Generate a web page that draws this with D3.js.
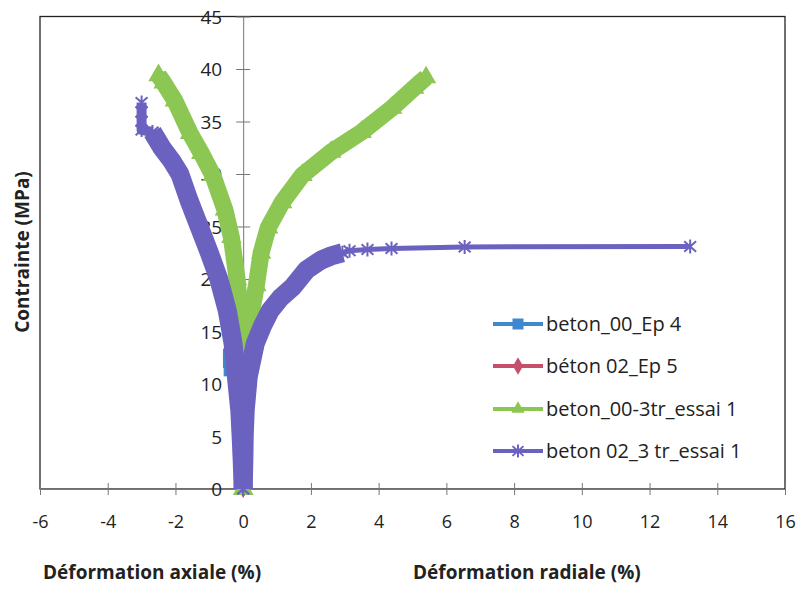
<!DOCTYPE html>
<html>
<head>
<meta charset="utf-8">
<script src="https://cdn.jsdelivr.net/npm/d3@7"></script>
<style>
  html, body { margin: 0; padding: 0; background: #fff; }
  svg { display: block; }
</style>
</head>
<body>
<div id="chart"></div>
<script>
// ---------------- DATA ----------------
const seriesNames = ["beton_00_Ep 4", "béton 02_Ep 5", "beton_00-3tr_essai 1", "beton 02_3 tr_essai 1"];

const xTicks = [-6, -4, -2, 0, 2, 4, 6, 8, 10, 12, 14, 16];
const yTicks = [0, 5, 10, 15, 20, 25, 30, 35, 40, 45];

// beton_00_Ep 4 (mostly hidden)
const blueAxialX  = [0, -0.03, -0.07, -0.13, -0.40, -0.42, -0.42];
const blueAxialY  = [0, 3, 6, 8.5, 11.3, 12.1, 12.8];
const blueRadialX = [0, 0.03, 0.08, 0.15, 0.25, 0.30];
const blueRadialY = [0, 3, 6, 9, 11.5, 13];

// béton 02_Ep 5 (hidden under the other curves)
const pinkAxialX  = [0, -0.02, -0.05, -0.08];
const pinkAxialY  = [0, 3, 6, 8];
const pinkRadialX = [0, 0.02, 0.04, 0.06];
const pinkRadialY = [0, 3, 6, 8];

// beton_00-3tr_essai 1
const greenAxialX  = [0, -0.01, -0.02, -0.04, -0.10, -0.18, -0.35, -0.54, -0.90, -1.24, -1.57, -2.02, -2.35, -2.50];
const greenAxialY  = [0, 4, 8.8, 12, 17, 20, 24, 26.6, 29.9, 32, 33.9, 37, 38.7, 39.4];
const greenRadialX = [0, 0.01, 0.03, 0.10, 0.20, 0.39, 0.53, 0.74, 1.15, 1.75, 2.6, 3.5, 4.4, 5.05, 5.40];
const greenRadialY = [0, 4, 8.8, 13, 16, 19.4, 22.5, 24.9, 27.3, 29.9, 32.1, 34, 36.3, 38.2, 39.2];

// beton 02_3 tr_essai 1
const purpleAxialX  = [0, -0.03, -0.06, -0.10, -0.20, -0.30, -0.47, -0.72, -1.00, -1.30, -1.60, -1.87, -2.12, -2.40, -2.68, -3.00, -3.00, -3.00, -3.00];
const purpleAxialY  = [0, 2.8, 5, 7.5, 10.7, 13.9, 17, 20, 22.5, 25, 27.5, 30, 31.3, 32.5, 34.0, 34.2, 35.0, 35.9, 36.8];
const purpleRadialX = [0, 0.02, 0.03, 0.06, 0.15, 0.36, 0.58, 0.80, 1.10, 1.45, 1.88, 2.30, 2.60, 2.93, 3.14, 3.67, 4.38, 6.54, 13.2];
const purpleRadialY = [0, 2.8, 5, 7.5, 10.7, 13.9, 15.6, 17.0, 18.2, 19.2, 20.9, 21.8, 22.2, 22.5, 22.7, 22.8, 22.9, 23.05, 23.1];

// ---------------- STYLE ----------------
const colors = ["#3f87cf", "#c5506b", "#8cc653", "#6b62c0"];
const markerKind = ["square", "diamond", "triangle", "asterisk"];
const W = 797, H = 593;
const FONT = "'Open Sans', Lato, 'DejaVu Sans', sans-serif";

const zip = (xs, ys) => xs.map((v, i) => [v, ys[i]]);
// band: number of leading points where markers overlap into a solid band;
// tail: stroke width used for the remaining points of each branch
const series = [
  { branches: [zip(blueAxialX, blueAxialY), zip(blueRadialX, blueRadialY)], band: [0, 0], tail: [4, 4], ms: 12 },
  { branches: [zip(pinkAxialX, pinkAxialY), zip(pinkRadialX, pinkRadialY)], band: [0, 0], tail: [4, 4], ms: 10 },
  { branches: [zip(greenAxialX, greenAxialY), zip(greenRadialX, greenRadialY)], band: [greenAxialX.length, greenRadialX.length], bw: 17, tail: [4, 4], ms: 20 },
  { branches: [zip(purpleAxialX, purpleAxialY), zip(purpleRadialX, purpleRadialY)], band: [15, 14], bw: 19, tail: [10, 5], ms: 14 }
];

const svg = d3.select("#chart").append("svg").attr("width", W).attr("height", H)
  .style("font-family", FONT);
svg.append("rect").attr("width", W).attr("height", H).attr("fill", "#fff");

const x = d3.scaleLinear().domain([xTicks[0], xTicks[xTicks.length - 1]]).range([40, 785]);
const y = d3.scaleLinear().domain([yTicks[0], yTicks[yTicks.length - 1]]).range([489, 16.5]);

// plot frame
svg.append("rect")
  .attr("x", x(-6)).attr("y", y(45))
  .attr("width", x(16) - x(-6)).attr("height", y(0) - y(45))
  .attr("fill", "none").attr("stroke", "#222").attr("stroke-width", 1.3);

// x axis (through y = 0)
const xAxis = svg.append("g").attr("transform", `translate(0,${y(0)})`)
  .call(d3.axisBottom(x).tickValues(xTicks).tickFormat(d3.format("d")).tickSizeOuter(0));
xAxis.select(".domain").attr("stroke", "#777");
xAxis.selectAll(".tick line").attr("y1", -6).attr("y2", 6).attr("stroke", "#777");
xAxis.selectAll(".tick text").attr("y", 33).attr("dy", "0.35em")
  .style("font-family", FONT).style("font-size", "18px").attr("fill", "#222")
  .text(d => String(d).replace("\u2212", "-"));

// y axis (through x = 0)
const yAxis = svg.append("g").attr("transform", `translate(${x(0)},0)`)
  .call(d3.axisLeft(y).tickValues(yTicks).tickFormat(d3.format("d")).tickSizeOuter(0));
yAxis.select(".domain").attr("stroke", "#777");
yAxis.selectAll(".tick line").attr("x1", -7).attr("x2", 7).attr("stroke", "#777");
yAxis.selectAll(".tick text").attr("x", -21).attr("dy", "0.35em")
  .style("font-family", FONT).style("font-size", "19px").attr("fill", "#222");

// marker drawing
function asteriskPath(r) {
  const a = r * 0.85, b = r * 0.75;
  return `M0,${-r}L0,${r}M${-a},${-b}L${a},${b}M${-a},${b}L${a},${-b}`;
}
function drawMarker(g, kind, cx, cy, size, color) {
  if (kind === "square") {
    g.append("rect").attr("x", cx - size / 2).attr("y", cy - size / 2)
      .attr("width", size).attr("height", size).attr("fill", color);
  } else if (kind === "diamond") {
    g.append("path").attr("transform", `translate(${cx},${cy})`)
      .attr("d", d3.symbol(d3.symbolDiamond, size * size * 0.9)()).attr("fill", color);
  } else if (kind === "triangle") {
    g.append("path").attr("transform", `translate(${cx},${cy})`)
      .attr("d", d3.symbol(d3.symbolTriangle, size * size * 0.45)()).attr("fill", color);
  } else {
    g.append("path").attr("transform", `translate(${cx},${cy})`)
      .attr("d", asteriskPath(size / 2)).attr("fill", "none")
      .attr("stroke", color).attr("stroke-width", 2);
  }
}

const line = d3.line().x(d => x(d[0])).y(d => y(d[1]));
const plot = svg.append("g");

series.forEach((s, i) => {
  const g = plot.append("g");
  const c = colors[i];
  s.branches.forEach((pts, b) => {
    const n = s.band[b];
    const tailPts = n > 1 ? pts.slice(n - 1) : pts;
    if (tailPts.length > 1) {
      g.append("path").attr("d", line(tailPts))
        .attr("fill", "none").attr("stroke", c).attr("stroke-width", s.tail[b])
        .attr("stroke-linejoin", "round");
    }
    if (n > 1) {
      g.append("path").attr("d", line(pts.slice(0, n)))
        .attr("fill", "none").attr("stroke", c).attr("stroke-width", s.bw)
        .attr("stroke-linejoin", "round").attr("stroke-linecap", "butt");
    }
    pts.forEach(p => drawMarker(g, markerKind[i], x(p[0]), y(p[1]), s.ms, c));
  });
});

// legend
const legY = [324, 366, 409, 451];
const leg = svg.append("g");
seriesNames.forEach((name, i) => {
  const cy = legY[i];
  leg.append("line").attr("x1", 493).attr("x2", 543).attr("y1", cy).attr("y2", cy)
    .attr("stroke", colors[i]).attr("stroke-width", 4);
  const msz = [11, 10, 13, 13][i];
  drawMarker(leg, markerKind[i], 518, cy, msz, colors[i]);
  leg.append("text").attr("x", 546).attr("y", cy).attr("dy", "0.35em")
    .style("font-size", "20px").attr("fill", "#222").text(name);
});

// axis titles
svg.append("text").attr("transform", "translate(29,252) rotate(-90)")
  .attr("text-anchor", "middle").style("font-size", "19px").style("font-weight", "bold")
  .attr("fill", "#222").text("Contrainte (MPa)");
svg.append("text").attr("x", 43).attr("y", 579)
  .style("font-size", "19px").style("font-weight", "bold")
  .attr("fill", "#222").text("Déformation axiale (%)");
svg.append("text").attr("x", 413).attr("y", 579)
  .style("font-size", "19px").style("font-weight", "bold")
  .attr("fill", "#222").text("Déformation radiale (%)");
</script>
</body>
</html>
